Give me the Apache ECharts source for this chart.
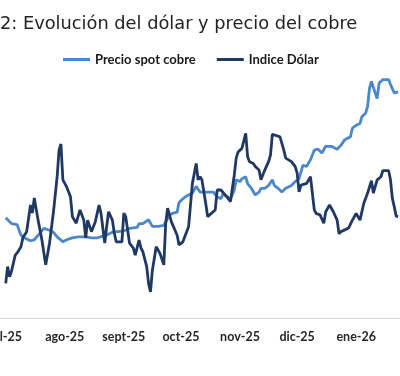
<!DOCTYPE html>
<html><head><meta charset="utf-8">
<script src="https://cdn.jsdelivr.net/npm/echarts@6/dist/echarts.min.js"></script>
<style>html,body{margin:0;padding:0;background:#fff}#c{width:400px;height:376px}</style>
</head><body><div id="c"></div>
<script>
const titleText = '2: Evolución del dólar y precio del cobre';
const seriesNames = ['Precio spot cobre', 'Indice Dólar'];
const tickDates = ['2025-07-01','2025-08-01','2025-09-01','2025-10-01','2025-11-01','2025-12-01','2026-01-01'];
const tickLabels = ['jul-25','ago-25','sept-25','oct-25','nov-25','dic-25','ene-26'];

const copperDates = ['2025-07-01','2025-07-02','2025-07-04','2025-07-07','2025-07-08','2025-07-09','2025-07-11','2025-07-14','2025-07-16','2025-07-19','2025-07-21','2025-07-24','2025-07-26','2025-07-28','2025-07-31',
'2025-08-02','2025-08-05','2025-08-08','2025-08-12','2025-08-15','2025-08-18','2025-08-23','2025-08-26','2025-08-31',
'2025-09-02','2025-09-04','2025-09-08','2025-09-09','2025-09-11','2025-09-14','2025-09-15','2025-09-16','2025-09-19','2025-09-22','2025-09-23','2025-09-25','2025-09-27','2025-09-29','2025-09-30',
'2025-10-02','2025-10-04','2025-10-07','2025-10-09','2025-10-11','2025-10-15','2025-10-18','2025-10-20','2025-10-22','2025-10-23','2025-10-27','2025-10-29','2025-10-30',
'2025-11-01','2025-11-02','2025-11-04','2025-11-05','2025-11-07','2025-11-09','2025-11-11','2025-11-12','2025-11-14','2025-11-16','2025-11-18','2025-11-19','2025-11-21','2025-11-23','2025-11-25','2025-11-26','2025-11-28','2025-11-30',
'2025-12-02','2025-12-04','2025-12-06','2025-12-08','2025-12-10','2025-12-12','2025-12-14','2025-12-16','2025-12-17','2025-12-19','2025-12-22','2025-12-24','2025-12-26','2025-12-29','2025-12-30',
'2026-01-01','2026-01-03','2026-01-04','2026-01-06','2026-01-07','2026-01-08','2026-01-09','2026-01-10','2026-01-12','2026-01-13','2026-01-15','2026-01-18','2026-01-19','2026-01-21','2026-01-23'];
const copperValues = [4.45,4.46,4.39,4.38,4.32,4.27,4.24,4.21,4.22,4.29,4.34,4.32,4.30,4.25,4.20,
4.22,4.24,4.25,4.25,4.24,4.24,4.27,4.30,4.31,
4.32,4.34,4.35,4.39,4.39,4.43,4.44,4.36,4.36,4.37,4.39,4.48,4.50,4.51,4.61,
4.65,4.68,4.71,4.78,4.72,4.72,4.72,4.67,4.65,4.70,4.65,4.74,4.85,
4.83,4.86,4.88,4.81,4.76,4.69,4.72,4.76,4.76,4.79,4.85,4.79,4.76,4.72,4.76,4.78,4.79,4.83,
4.86,5.00,4.99,5.06,5.16,5.17,5.13,5.20,5.22,5.20,5.17,5.21,5.27,5.30,5.39,
5.42,5.44,5.51,5.55,5.62,5.81,5.88,5.86,5.70,5.86,5.90,5.90,5.85,5.76,5.77];

const dollarDates = ['2025-07-01','2025-07-02','2025-07-03','2025-07-04','2025-07-06','2025-07-07','2025-07-09','2025-07-10','2025-07-12','2025-07-14','2025-07-15','2025-07-16','2025-07-18','2025-07-20','2025-07-22','2025-07-24','2025-07-26','2025-07-28','2025-07-29','2025-07-30','2025-07-31',
'2025-08-02','2025-08-04','2025-08-05','2025-08-07','2025-08-09','2025-08-11','2025-08-12','2025-08-13','2025-08-15','2025-08-17','2025-08-19','2025-08-20','2025-08-22','2025-08-23','2025-08-24','2025-08-26','2025-08-27','2025-08-28','2025-08-31',
'2025-09-01','2025-09-02','2025-09-04','2025-09-06','2025-09-07','2025-09-09','2025-09-10','2025-09-11','2025-09-13','2025-09-14','2025-09-15','2025-09-16','2025-09-18','2025-09-20','2025-09-22','2025-09-23','2025-09-24','2025-09-26','2025-09-29','2025-09-30',
'2025-10-02','2025-10-05','2025-10-07','2025-10-09','2025-10-10','2025-10-11','2025-10-12','2025-10-14','2025-10-15','2025-10-19','2025-10-20','2025-10-22','2025-10-23','2025-10-25','2025-10-27','2025-10-29','2025-10-30','2025-10-31',
'2025-11-02','2025-11-04','2025-11-05','2025-11-06','2025-11-08','2025-11-09','2025-11-11','2025-11-12','2025-11-14','2025-11-16','2025-11-17','2025-11-18','2025-11-19','2025-11-22','2025-11-24','2025-11-25','2025-11-26','2025-11-28','2025-11-30',
'2025-12-01','2025-12-02','2025-12-03','2025-12-06','2025-12-08','2025-12-10','2025-12-11','2025-12-13','2025-12-15','2025-12-16','2025-12-18','2025-12-20','2025-12-22','2025-12-23','2025-12-24','2025-12-26','2025-12-28','2025-12-30',
'2026-01-01','2026-01-03','2026-01-05','2026-01-07','2026-01-09','2026-01-10','2026-01-12','2026-01-14','2026-01-15','2026-01-18','2026-01-19','2026-01-20','2026-01-21','2026-01-22','2026-01-23'];
const dollarValues = [96.78,97.16,96.93,97.05,97.42,97.47,97.61,97.81,97.95,98.55,98.37,98.71,98.21,97.76,97.20,97.69,98.37,99.19,99.79,99.93,99.12,
98.96,98.74,98.29,98.14,98.44,98.21,97.81,98.21,97.95,98.17,98.55,98.37,97.69,98.06,98.40,98.21,97.92,97.72,97.72,
98.37,98.29,97.69,97.58,97.42,97.76,97.58,97.50,97.16,96.78,96.59,97.08,97.61,97.46,97.20,98.14,98.48,98.17,97.87,97.65,
97.72,98.06,99.04,99.49,99.12,99.19,99.12,98.59,98.29,98.44,98.89,98.89,98.85,98.74,98.63,99.23,99.61,99.75,
99.83,100.17,99.64,99.53,99.49,99.42,99.34,99.12,99.34,99.53,99.68,100.15,100.13,100.09,99.79,99.61,99.57,99.53,99.42,
99.27,98.85,99.00,99.04,99.19,98.44,98.36,98.33,98.14,98.40,98.55,98.40,98.21,97.90,97.95,97.99,98.03,98.21,
98.36,98.21,98.59,98.82,99.10,98.82,99.12,99.19,99.33,99.33,99.12,98.70,98.51,98.30,98.29];

function ts(s){const p=s.split('-').map(Number);return Date.UTC(p[0],p[1]-1,p[2]);}
const tickTs = tickDates.map(ts);
const pair = (d, v) => d.map((x, i) => [ts(x), v[i]]);

const chart = echarts.init(document.getElementById('c'), null, {renderer: 'canvas'});
chart.setOption({
  animation: false,
  backgroundColor: '#ffffff',
  title: {text: titleText, left: -5, top: 10,
    textStyle: {fontFamily: 'DejaVu Sans', fontSize: 17.8, fontWeight: 'normal', color: '#222222'}},
  legend: {
    left: 63, top: 53, itemGap: 21, itemWidth: 27, itemHeight: 3, icon: 'rect', padding: 0,
    textStyle: {fontFamily: 'Lato', fontWeight: 'bold', fontSize: 13, color: '#1a1a1a'},
    data: seriesNames
  },
  grid: {left: 0, right: 0, top: 70, bottom: 58, containLabel: false, outerBoundsMode: 'none'},
  xAxis: {
    type: 'value', min: ts('2025-06-28'), max: ts('2026-01-24'),
    axisLine: {show: true, onZero: false, lineStyle: {color: '#d9d9d9', width: 1}},
    axisTick: {show: false},
    splitLine: {show: false},
    axisLabel: {
      customValues: tickTs, margin: 12, hideOverlap: false,
      fontFamily: 'Lato', fontWeight: 'bold', fontSize: 12.5, color: '#262626',
      formatter: function (v) { const i = tickTs.indexOf(v); return i >= 0 ? tickLabels[i] : ''; }
    }
  },
  yAxis: [
    {type: 'value', min: 3.4, max: 6.0, show: false, splitLine: {show: false}},
    {type: 'value', min: 96, max: 101.6, show: false, splitLine: {show: false}}
  ],
  series: [
    {name: seriesNames[0], type: 'line', yAxisIndex: 0, data: pair(copperDates, copperValues),
      showSymbol: false, symbol: 'none', lineStyle: {color: '#4a87cc', width: 2.8}, itemStyle: {color: '#4a87cc'}, z: 2},
    {name: seriesNames[1], type: 'line', yAxisIndex: 1, data: pair(dollarDates, dollarValues),
      showSymbol: false, symbol: 'none', lineStyle: {color: '#1f3864', width: 2.8}, itemStyle: {color: '#1f3864'}, z: 3}
  ]
});
</script></body></html>
